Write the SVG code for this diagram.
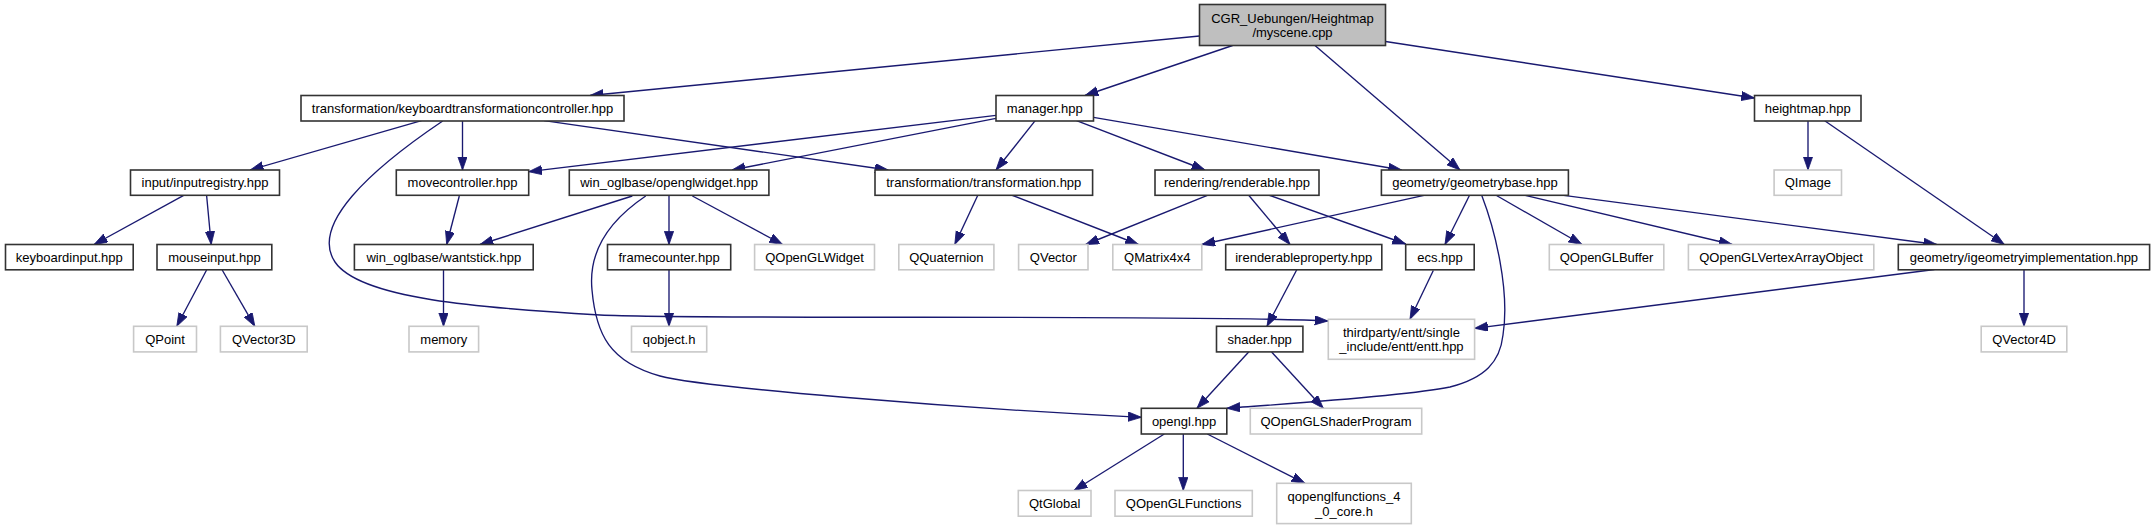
<svg xmlns="http://www.w3.org/2000/svg" width="2155" height="529" viewBox="0 0 2155 529">
<style>
  .bg{fill:#ffffff}
  .n rect{fill:#ffffff;stroke:#333333;stroke-width:1.6}
  .root rect{fill:#bfbfbf;stroke:#333333;stroke-width:1.6}
  .x rect{fill:#ffffff;stroke:#c8c8c8;stroke-width:1.6}
  text{font-family:"Liberation Sans",Arial,Helvetica,sans-serif;font-size:13px;fill:#000000;text-anchor:middle}
  .e path{fill:none;stroke:#191970;stroke-width:1.35;marker-end:url(#ah)}
</style>
<defs>
  <marker id="ah" markerUnits="userSpaceOnUse" markerWidth="14" markerHeight="10" refX="13.3" refY="4.65" orient="auto" viewBox="0 0 14 10">
    <path d="M0,0 L13.3,4.65 L0,9.3 z" fill="#191970" stroke="#191970" stroke-width="0.8"/>
  </marker>
</defs>
<rect class="bg" x="0" y="0" width="2155" height="529"/>

<g id="edges" class="e">
  <path d="M1199.5,36 L590,95.5"/>
  <path d="M1232.6,45.5 L1085,95.5"/>
  <path d="M1315,45.5 L1460,170"/>
  <path d="M1385.5,41.5 L1754.5,98"/>
  <path d="M421.5,120.7 L250.2,170"/>
  <path d="M462.5,120.7 L462.5,170"/>
  <path d="M442.7,121 C370,170 310,225 335,262 C360,299 480,308 600,315 C700,320 1200,314 1328,321"/>
  <path d="M544,120.7 L888.2,170"/>
  <path d="M996,115.3 L528.7,171.7"/>
  <path d="M996,118.3 L732,170"/>
  <path d="M1035.2,120.7 L996,170"/>
  <path d="M1076.5,120.7 L1205,170"/>
  <path d="M1093.5,117.3 L1401.6,170"/>
  <path d="M1808,120.7 L1808,170"/>
  <path d="M1824.7,120.7 L2004.3,244.5"/>
  <path d="M183.7,195.3 L94.1,244.5"/>
  <path d="M206.6,195.3 L211.2,244.5"/>
  <path d="M459.3,196 L446.7,244.5"/>
  <path d="M632.3,196 L480,244.5"/>
  <path d="M645.7,196 C610,220 588,250 592,290 C596,335 610,362 660,376 C700,387 950,408 1141.5,417.3"/>
  <path d="M669,196 L669,244.5"/>
  <path d="M692.4,196 L782.6,244.5"/>
  <path d="M977.8,195.3 L954.8,244.5"/>
  <path d="M1012.2,195.3 L1138.5,244.5"/>
  <path d="M1207.4,195.3 L1085.7,244.5"/>
  <path d="M1248.7,195.3 L1290,244.5"/>
  <path d="M1269.3,195.3 L1405.7,244"/>
  <path d="M1424,195.3 L1201.8,244.5"/>
  <path d="M1469.3,195.7 L1445,244.5"/>
  <path d="M1481.7,195.3 C1495,230 1510,290 1503,335 C1500,362 1485,378 1450,387 C1400,397 1280,404 1226.8,408.3"/>
  <path d="M1496.5,195.5 L1582,244.5"/>
  <path d="M1525.2,195.3 L1732.2,244.5"/>
  <path d="M1563.7,195.3 L1936.8,244.5"/>
  <path d="M1296.9,269.5 L1267,326.3"/>
  <path d="M1433.3,270.5 L1410,319.3"/>
  <path d="M1934.4,269.5 L1474.6,328.3"/>
  <path d="M2024,269.5 L2024,326.3"/>
  <path d="M443.5,270 L443.5,326.3"/>
  <path d="M669,270 L669,326.3"/>
  <path d="M206.6,270 L176.8,326.3"/>
  <path d="M222.2,270 L254.8,326.3"/>
  <path d="M1248.9,351.7 L1197,408.3"/>
  <path d="M1271.6,352 L1323.3,408.3"/>
  <path d="M1164.3,434 L1074,490.5"/>
  <path d="M1183.3,434 L1183.3,490.5"/>
  <path d="M1207.3,434 L1305,483.3"/>
</g>

<g id="myscene" class="root"><rect x="1199.5" y="4.5" width="186" height="41"/><text x="1292.5" y="22.5">CGR_Uebungen/Heightmap</text><text x="1292.5" y="37">/myscene.cpp</text></g>

<g id="keyboardtransformationcontroller" class="n"><rect x="301" y="95.5" width="323" height="25.5"/><text x="462.5" y="112.7">transformation/keyboardtransformationcontroller.hpp</text></g>
<g id="manager" class="n"><rect x="996" y="95.5" width="97.5" height="25.5"/><text x="1044.75" y="112.7">manager.hpp</text></g>
<g id="heightmap" class="n"><rect x="1754.5" y="95.5" width="106.5" height="25.5"/><text x="1807.75" y="112.7">heightmap.hpp</text></g>

<g id="inputregistry" class="n"><rect x="130.5" y="170" width="149" height="25.3"/><text x="205" y="187.1">input/inputregistry.hpp</text></g>
<g id="movecontroller" class="n"><rect x="396.3" y="170" width="132.4" height="25.3"/><text x="462.5" y="187.1">movecontroller.hpp</text></g>
<g id="openglwidget" class="n"><rect x="569.3" y="170" width="199.6" height="25.3"/><text x="669.1" y="187.1">win_oglbase/openglwidget.hpp</text></g>
<g id="transformation" class="n"><rect x="875" y="170" width="217.6" height="25.3"/><text x="983.8" y="187.1">transformation/transformation.hpp</text></g>
<g id="renderable" class="n"><rect x="1155" y="170" width="164" height="25.3"/><text x="1237" y="187.1">rendering/renderable.hpp</text></g>
<g id="geometrybase" class="n"><rect x="1381.4" y="170" width="187" height="25.3"/><text x="1474.9" y="187.1">geometry/geometrybase.hpp</text></g>
<g id="QImage" class="x"><rect x="1774.1" y="170" width="67.4" height="25.3"/><text x="1807.8" y="187.1">QImage</text></g>

<g id="keyboardinput" class="n"><rect x="5.5" y="244.5" width="127.7" height="25.3"/><text x="69.35" y="261.6">keyboardinput.hpp</text></g>
<g id="mouseinput" class="n"><rect x="157" y="244.5" width="114.8" height="25.3"/><text x="214.4" y="261.6">mouseinput.hpp</text></g>
<g id="wantstick" class="n"><rect x="354.4" y="244.5" width="178.8" height="25.3"/><text x="443.8" y="261.6">win_oglbase/wantstick.hpp</text></g>
<g id="framecounter" class="n"><rect x="607.5" y="244.5" width="123.2" height="25.3"/><text x="669.1" y="261.6">framecounter.hpp</text></g>
<g id="QOpenGLWidget" class="x"><rect x="754.6" y="244.5" width="119.9" height="25.3"/><text x="814.55" y="261.6">QOpenGLWidget</text></g>
<g id="QQuaternion" class="x"><rect x="898.8" y="244.5" width="95.1" height="25.3"/><text x="946.35" y="261.6">QQuaternion</text></g>
<g id="QVector" class="x"><rect x="1018.6" y="244.5" width="69.4" height="25.3"/><text x="1053.3" y="261.6">QVector</text></g>
<g id="QMatrix4x4" class="x"><rect x="1112.8" y="244.5" width="89" height="25.3"/><text x="1157.3" y="261.6">QMatrix4x4</text></g>
<g id="irenderableproperty" class="n"><rect x="1225.7" y="244.5" width="156.1" height="25.3"/><text x="1303.75" y="261.6">irenderableproperty.hpp</text></g>
<g id="ecs" class="n"><rect x="1405.7" y="244.5" width="68.5" height="25.3"/><text x="1439.95" y="261.6">ecs.hpp</text></g>
<g id="QOpenGLBuffer" class="x"><rect x="1549.3" y="244.5" width="114.5" height="25.3"/><text x="1606.55" y="261.6">QOpenGLBuffer</text></g>
<g id="QOpenGLVertexArrayObject" class="x"><rect x="1688.4" y="244.5" width="185.4" height="25.3"/><text x="1781.1" y="261.6">QOpenGLVertexArrayObject</text></g>
<g id="igeometryimplementation" class="n"><rect x="1898.3" y="244.5" width="251.3" height="25.3"/><text x="2023.95" y="261.6">geometry/igeometryimplementation.hpp</text></g>

<g id="QPoint" class="x"><rect x="133.6" y="326.3" width="62.9" height="25.6"/><text x="165.05" y="343.6">QPoint</text></g>
<g id="QVector3D" class="x"><rect x="220.4" y="326.3" width="86.8" height="25.6"/><text x="263.8" y="343.6">QVector3D</text></g>
<g id="memory" class="x"><rect x="409" y="326.3" width="69.6" height="25.6"/><text x="443.8" y="343.6">memory</text></g>
<g id="qobject" class="x"><rect x="631.5" y="326.3" width="75.2" height="25.6"/><text x="669.1" y="343.6">qobject.h</text></g>
<g id="shader" class="n"><rect x="1216.5" y="326.3" width="86.4" height="25.6"/><text x="1259.7" y="343.6">shader.hpp</text></g>
<g id="entt" class="x"><rect x="1328.3" y="319.3" width="146.3" height="40"/><text x="1401.45" y="336.6">thirdparty/entt/single</text><text x="1401.45" y="351">_include/entt/entt.hpp</text></g>
<g id="QVector4D" class="x"><rect x="1981.2" y="326.3" width="85.6" height="25.6"/><text x="2024" y="343.6">QVector4D</text></g>

<g id="opengl" class="n"><rect x="1141.3" y="408.3" width="85.5" height="25.7"/><text x="1184.05" y="425.6">opengl.hpp</text></g>
<g id="QOpenGLShaderProgram" class="x"><rect x="1250.3" y="408.3" width="171.4" height="25.7"/><text x="1336" y="425.6">QOpenGLShaderProgram</text></g>

<g id="QtGlobal" class="x"><rect x="1018.3" y="490.5" width="72.7" height="25.7"/><text x="1054.65" y="507.8">QtGlobal</text></g>
<g id="QOpenGLFunctions" class="x"><rect x="1115" y="490.5" width="137.3" height="25.7"/><text x="1183.65" y="507.8">QOpenGLFunctions</text></g>
<g id="qopenglfunctions_4_0_core" class="x"><rect x="1276.7" y="483.3" width="134.6" height="40.3"/><text x="1344" y="501">qopenglfunctions_4</text><text x="1344" y="515.5">_0_core.h</text></g>
</svg>
